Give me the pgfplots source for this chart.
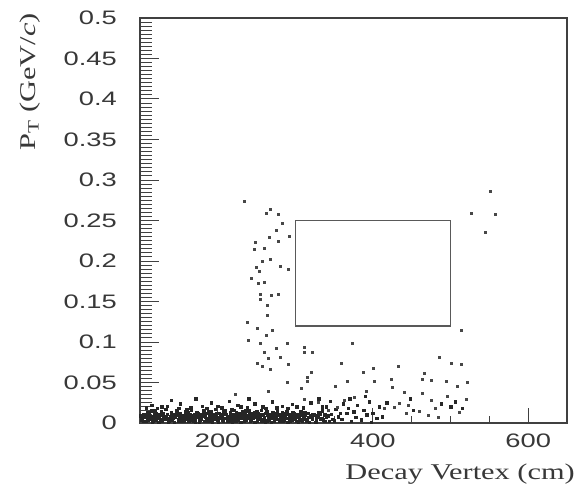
\documentclass[border=0pt]{standalone}
\usepackage{pgfplots}
\pgfplotsset{compat=1.18}
\usepackage{fontspec}
\newfontfamily\tickfont{Liberation Sans}[FakeStretch=1.4]
\newfontfamily\labelfont{Liberation Serif}[FakeStretch=1.35]

\pgfplotstableread{
x y
234 0.274
263 0.259
268 0.264
278 0.258
283 0.247
276 0.238
267 0.229
278 0.225
292 0.231
249 0.223
247 0.214
260 0.216
258 0.200
268 0.202
281 0.194
291 0.190
250 0.192
253 0.187
243 0.179
252 0.172
260 0.174
255 0.159
269 0.158
278 0.159
255 0.153
264 0.146
264 0.133
238 0.124
251 0.117
270 0.115
262 0.109
240 0.102
255 0.098
275 0.092
289 0.098
260 0.088
265 0.080
281 0.081
251 0.074
258 0.070
268 0.067
291 0.072
311 0.093
311 0.087
322 0.088
373 0.099
359 0.074
320 0.063
315 0.057
315 0.051
290 0.050
265 0.039
223 0.035
307 0.043
352 0.046
367 0.051
387 0.063
400 0.068
433 0.070
376 0.032
391 0.039
402 0.051
423 0.054
425 0.044
311 0.030
329 0.026
363 0.028
354 0.020
342 0.016
551 0.286
526 0.259
558 0.258
545 0.235
514 0.114
485 0.081
501 0.074
514 0.072
466 0.062
475 0.053
463 0.054
494 0.051
508 0.045
521 0.050
440 0.038
463 0.037
496 0.033
520 0.029
475 0.028
434 0.025
445 0.022
428 0.019
480 0.018
511 0.013
460 0.014
443 0.012
471 0.010
484 0.007
415 0.018
}\uppertable

\pgfplotstableread{
x y
102 0.004
104 0.011
106 0.007
108 0.002
110 0.013
111 0.009
113 0.005
115 0.015
116 0.001
118 0.008
120 0.012
121 0.004
123 0.010
125 0.006
127 0.014
128 0.002
130 0.009
132 0.005
133 0.017
135 0.011
137 0.003
139 0.008
140 0.013
142 0.006
144 0.001
146 0.010
147 0.015
149 0.004
151 0.007
152 0.012
154 0.002
156 0.009
158 0.014
159 0.005
161 0.011
163 0.003
164 0.008
166 0.016
168 0.006
170 0.010
171 0.001
173 0.013
175 0.007
177 0.004
178 0.011
180 0.009
182 0.015
183 0.002
185 0.006
187 0.012
189 0.008
190 0.003
192 0.014
194 0.010
195 0.005
197 0.017
199 0.007
201 0.001
202 0.012
204 0.009
206 0.004
208 0.014
209 0.006
211 0.011
213 0.002
214 0.008
216 0.013
218 0.005
220 0.010
221 0.016
223 0.003
225 0.007
227 0.012
228 0.009
230 0.001
232 0.014
233 0.006
235 0.011
237 0.004
239 0.008
240 0.015
242 0.002
244 0.010
246 0.006
247 0.013
249 0.009
251 0.003
252 0.012
254 0.007
256 0.016
258 0.005
259 0.010
261 0.001
263 0.014
265 0.008
266 0.004
268 0.011
270 0.006
271 0.013
273 0.002
275 0.009
277 0.015
278 0.005
280 0.011
282 0.007
284 0.003
285 0.012
287 0.009
289 0.014
290 0.001
292 0.006
294 0.010
296 0.004
297 0.013
299 0.008
301 0.002
303 0.011
305 0.006
307 0.014
309 0.003
311 0.009
313 0.005
316 0.012
318 0.001
321 0.007
324 0.010
327 0.004
330 0.013
334 0.006
338 0.002
342 0.009
346 0.011
350 0.003
355 0.008
360 0.005
366 0.012
372 0.002
378 0.007
385 0.004
392 0.010
398 0.001
405 0.006
101 0.009
105 0.002
109 0.006
112 0.012
117 0.003
119 0.016
124 0.001
126 0.010
129 0.005
134 0.007
136 0.001
141 0.004
143 0.009
148 0.012
150 0.002
153 0.006
157 0.003
160 0.010
162 0.013
165 0.004
169 0.002
172 0.008
174 0.012
176 0.001
179 0.005
181 0.011
184 0.008
186 0.003
188 0.014
191 0.006
193 0.001
196 0.009
198 0.012
200 0.004
203 0.006
205 0.010
207 0.002
210 0.015
212 0.007
215 0.003
217 0.011
219 0.001
222 0.008
224 0.013
226 0.004
229 0.006
231 0.010
234 0.002
236 0.015
238 0.006
241 0.011
243 0.004
245 0.008
248 0.001
250 0.014
253 0.005
255 0.010
257 0.002
260 0.007
262 0.012
264 0.003
267 0.009
269 0.001
272 0.010
274 0.006
276 0.012
279 0.003
281 0.008
283 0.013
286 0.004
288 0.006
291 0.011
293 0.002
295 0.008
298 0.012
300 0.005
302 0.009
304 0.001
306 0.004
308 0.010
310 0.007
312 0.013
315 0.003
319 0.009
322 0.005
326 0.001
329 0.008
332 0.011
336 0.004
340 0.007
344 0.002
348 0.005
103 0.007
107 0.010
110 0.004
114 0.008
118 0.011
122 0.007
126 0.003
129 0.012
133 0.008
137 0.006
141 0.010
145 0.007
149 0.011
153 0.009
156 0.005
160 0.007
164 0.011
167 0.009
171 0.005
175 0.010
179 0.008
183 0.012
187 0.005
190 0.009
194 0.007
198 0.010
202 0.006
206 0.008
210 0.011
213 0.006
217 0.008
221 0.005
225 0.010
229 0.008
232 0.011
236 0.009
240 0.006
244 0.012
248 0.007
252 0.009
256 0.011
260 0.004
264 0.010
268 0.007
272 0.009
276 0.005
280 0.010
284 0.008
288 0.011
292 0.009
296 0.006
300 0.011
304 0.008
308 0.005
313 0.010
317 0.007
322 0.011
327 0.009
332 0.005
338 0.010
115 0.022
128 0.020
140 0.028
152 0.024
165 0.019
172 0.030
180 0.021
192 0.025
205 0.019
215 0.027
226 0.022
238 0.019
248 0.024
258 0.020
270 0.026
283 0.021
296 0.023
310 0.019
320 0.025
335 0.020
150 0.018
200 0.021
240 0.030
290 0.018
108 0.019
122 0.018
135 0.021
160 0.017
186 0.018
218 0.017
230 0.020
262 0.018
276 0.019
302 0.020
335 0.015
340 0.020
345 0.027
352 0.017
358 0.012
362 0.024
368 0.018
375 0.014
380 0.022
388 0.016
395 0.026
400 0.012
408 0.020
412 0.008
418 0.025
448 0.030
452 0.016
488 0.024
500 0.020
506 0.026
515 0.018
370 0.030
390 0.033
330 0.030
}\bandtable

\pgfplotsset{
  base/.style={
    scale only axis,
    width=427pt, height=405pt,
    xmin=100, xmax=650, ymin=0, ymax=0.5,
    clip=false,
    axis line style={line width=1.6pt, black!75},
    tick pos=left,
    tick align=inside,
  },
}

\begin{document}
\begin{tikzpicture}
% y ticks (own tick lengths)
\begin{axis}[
  base,
  hide x axis,
  major tick length=19pt, minor tick length=12pt,
  ytick={0,0.05,0.1,0.15,0.2,0.25,0.3,0.35,0.4,0.45,0.5},
  yticklabels={0,0.05,0.1,0.15,0.2,0.25,0.3,0.35,0.4,0.45,0.5},
  minor y tick num=9,
  ytick style={line width=1pt, black!75},
  yticklabel style={font=\tickfont\fontsize{19.5}{19.5}\selectfont, text=black!78, inner sep=0pt, anchor=east, xshift=-23pt},
  ylabel={P\textsubscript{T} (GeV/\textit{c})},
  ylabel style={font=\labelfont\fontsize{22.5}{22.5}\selectfont, text=black!78, inner sep=0pt, at={(axis description cs:-0.2576,1.012)}, anchor=east},
]
\end{axis}
% main axis with x ticks and data
\begin{axis}[
  base,
  major tick length=15pt, minor tick length=7pt,
  xtick={200,400,600},
  xticklabels={200,400,600},
  minor xtick={150,250,300,350,450,500,550},
  ytick=\empty,
  xtick style={line width=1.1pt, black!75},
  xticklabel style={font=\tickfont\fontsize{19.5}{19.5}\selectfont, text=black!78, inner sep=0pt, anchor=north, yshift=-11pt},
  xlabel={Decay Vertex (cm)},
  xlabel style={font=\labelfont\fontsize{22.5}{22.5}\selectfont, text=black!78, inner sep=0pt, at={(axis description cs:1.0187,-0.1407)}, anchor=base east},
]
\addplot[only marks, mark=square*, mark size=1.25pt, black!85] table {\bandtable};
\addplot[only marks, mark=square*, mark size=1.0pt, black!72] table {\uppertable};
\addplot[black!65, line width=1.4pt, line join=miter] coordinates {(300,0.12) (500,0.12) (500,0.25) (300,0.25) (300,0.12)};
\end{axis}
\path (current axis.south west) ++(-140pt,-67pt);
\path (current axis.north east) ++(20pt,18pt);
\end{tikzpicture}
\end{document}
